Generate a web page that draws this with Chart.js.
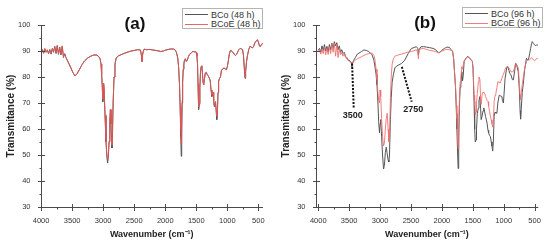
<!DOCTYPE html>
<html>
<head>
<meta charset="utf-8">
<script src="https://cdn.jsdelivr.net/npm/chart.js@4.4.1/dist/chart.umd.min.js"></script>
<style>
  body { margin: 0; background: #fff; font-family: "Liberation Sans", Arial, sans-serif; }
  #fig { position: relative; width: 550px; height: 244px; overflow: hidden; }
  .panel { position: absolute; top: 0; width: 275px; height: 244px; }
  .tag { position: absolute; font-weight: bold; font-size: 17px; color: #111; line-height: 1; transform: translate(-50%, -50%); }
  .legend { position: absolute; border: 1px solid #b4b4b4; background: #fff; font-size: 9px; color: #333; box-sizing: border-box; padding-top: 1px; }
  .legend .row { display: flex; align-items: center; height: 9.5px; white-space: nowrap; }
  .legend .sw { display: inline-block; width: 23px; height: 0; border-top: 1px solid; margin: 0 3px 0 2px; }
</style>
</head>
<body>
<div id="fig">
  <div class="panel" style="left:0"><canvas id="chartA" width="275" height="244"></canvas></div>
  <div class="panel" style="left:275px"><canvas id="chartB" width="275" height="244"></canvas></div>
  <div class="tag" style="left:135px;top:23px">(a)</div>
  <div class="tag" style="left:425px;top:22px">(b)</div>
  <div class="legend" id="legA" style="left:182px;top:8px;width:81px;height:21px"></div>
  <div class="legend" id="legB" style="left:462px;top:7px;width:81px;height:21px"></div>
</div>
<script>
// tick labels
const xTicks = [4000, 3500, 3000, 2500, 2000, 1500, 1000, 500];
const yTicks = [30, 40, 50, 60, 70, 80, 90, 100];

// series names
const seriesA = ["BCo (48 h)", "BCoE (48 h)"];
const seriesB = ["BCo (96 h)", "BCoE (96 h)"];

// (a) 48 h spectra, wavenumber (cm-1) and transmitance (%)
const wnA = [
  4000, 3980, 3960, 3940, 3920, 3900, 3880, 3860, 3840, 3820,
  3800, 3780, 3760, 3740, 3720, 3700, 3680, 3660, 3640, 3620,
  3600, 3580, 3550, 3520, 3490, 3455, 3420, 3380, 3340, 3300,
  3250, 3200, 3150, 3100, 3070, 3050, 3035, 3025, 3015, 3008,
  3004, 3000, 2993, 2985, 2970, 2955, 2940, 2928, 2918, 2905,
  2893, 2884, 2875, 2866, 2858, 2850, 2840, 2825, 2810, 2790,
  2750, 2700, 2650, 2600, 2550, 2500, 2450, 2400, 2385, 2375,
  2365, 2355, 2340, 2300, 2250, 2200, 2150, 2100, 2070, 2030,
  2000, 1950, 1900, 1860, 1840, 1820, 1800, 1785, 1770, 1760,
  1750, 1742, 1735, 1728, 1720, 1710, 1700, 1690, 1676, 1660,
  1645, 1630, 1610, 1590, 1570, 1550, 1530, 1515, 1500, 1490,
  1480, 1472, 1465, 1460, 1450, 1442, 1432, 1422, 1410, 1400,
  1390, 1382, 1370, 1355, 1340, 1325, 1310, 1290, 1275, 1262,
  1250, 1240, 1230, 1220, 1212, 1200, 1190, 1180, 1170, 1160,
  1150, 1140, 1125, 1110, 1095, 1080, 1050, 1030, 1015, 1000,
  985, 970, 955, 940, 920, 900, 885, 870, 850, 835,
  815, 795, 775, 755, 740, 728, 715, 705, 690, 675,
  655, 635, 615, 595, 575, 555, 530, 515, 500, 485,
  470, 455, 440, 430
];
const bcoA = [
  90.0, 90.6, 89.2, 90.8, 89.6, 90.3, 89.0, 90.6, 88.8, 91.0,
  89.5, 91.8, 89.0, 92.0, 88.7, 91.5, 88.5, 91.8, 87.5, 89.0,
  87.5, 86.5, 85.0, 83.5, 81.8, 80.4, 81.3, 83.0, 84.8, 86.2,
  87.3, 88.0, 88.5, 88.4, 87.8, 87.0, 85.0, 81.0, 76.5, 72.0,
  70.5, 74.0, 77.5, 75.0, 65.0, 55.0, 49.0, 46.9, 49.0, 55.0,
  63.0, 67.3, 62.0, 55.0, 52.7, 58.0, 70.0, 80.0, 85.0, 87.3,
  88.2, 88.7, 89.2, 89.6, 90.0, 90.2, 90.5, 90.4, 88.5, 86.0,
  88.5, 89.8, 90.7, 90.5, 90.6, 90.4, 90.2, 90.0, 89.8, 90.0,
  90.3, 90.6, 90.8, 90.7, 90.4, 89.5, 87.5, 84.0, 77.0, 68.0,
  57.0, 49.5, 58.0, 70.0, 78.0, 83.0, 85.0, 86.5, 87.0, 86.0,
  86.5, 87.6, 88.7, 89.0, 89.5, 90.0, 89.5, 90.0, 89.3, 88.0,
  85.0, 77.0, 69.0, 67.5, 69.5, 76.0, 82.0, 84.0, 84.3, 81.0,
  78.0, 77.0, 79.0, 81.5, 81.8, 81.0, 80.5, 79.6, 78.5, 75.0,
  72.5, 73.5, 74.0, 71.0, 68.7, 69.5, 70.5, 67.0, 63.6, 66.0,
  74.0, 78.4, 79.5, 80.0, 82.5, 83.0, 83.5, 83.0, 82.8, 84.0,
  86.0, 88.5, 90.0, 90.3, 89.7, 89.2, 88.6, 88.3, 88.7, 89.5,
  90.5, 91.0, 90.8, 90.5, 88.5, 84.0, 79.5, 82.0, 86.0, 88.3,
  90.5, 91.8, 91.5, 91.2, 91.8, 93.2, 94.0, 94.3, 93.5, 92.2,
  91.7, 92.3, 92.8, 93.0
];
const bcoeA = [
  90.2, 90.4, 89.0, 91.0, 89.4, 90.5, 89.2, 90.2, 89.0, 90.8,
  89.8, 91.5, 89.3, 92.2, 88.9, 91.2, 88.8, 92.0, 87.8, 88.7,
  87.5, 86.5, 85.0, 83.5, 81.8, 80.4, 81.3, 83.0, 84.8, 86.2,
  87.3, 88.0, 88.5, 88.4, 87.8, 87.0, 85.0, 81.0, 76.5, 72.5,
  71.5, 74.5, 77.5, 75.0, 65.5, 56.0, 50.0, 48.5, 50.0, 55.5,
  63.5, 67.6, 62.5, 56.0, 53.8, 58.5, 70.0, 80.0, 85.0, 87.3,
  88.2, 88.7, 89.2, 89.6, 90.0, 90.2, 90.5, 90.4, 88.5, 86.0,
  88.5, 89.8, 90.7, 90.5, 90.6, 90.4, 90.2, 90.0, 89.8, 90.0,
  90.3, 90.6, 90.8, 90.7, 90.4, 89.5, 87.5, 84.0, 77.0, 69.0,
  60.0, 54.0, 60.0, 71.0, 78.0, 83.0, 85.0, 86.5, 87.0, 86.0,
  86.5, 87.6, 88.7, 89.0, 89.5, 90.0, 89.5, 90.0, 89.3, 88.0,
  85.0, 77.5, 70.0, 68.5, 70.0, 76.0, 82.0, 84.0, 84.3, 81.0,
  78.0, 77.0, 79.0, 81.5, 81.8, 81.0, 80.5, 79.6, 78.5, 75.0,
  73.0, 73.8, 74.0, 71.5, 69.3, 69.8, 70.5, 67.5, 65.0, 66.5,
  74.0, 78.4, 79.5, 80.0, 82.5, 83.0, 83.5, 83.0, 82.8, 84.0,
  86.0, 88.5, 90.0, 90.3, 89.7, 89.2, 88.6, 88.3, 88.7, 89.5,
  90.5, 91.0, 90.8, 90.5, 88.5, 84.0, 79.8, 82.0, 86.0, 88.3,
  90.5, 91.8, 91.5, 91.2, 91.8, 93.2, 94.0, 94.3, 93.5, 92.2,
  91.7, 92.3, 92.8, 93.0
];

// (b) 96 h spectra
const wnB = [
  4000, 3980, 3960, 3940, 3920, 3900, 3880, 3860, 3840, 3820,
  3800, 3780, 3760, 3740, 3720, 3700, 3680, 3660, 3640, 3620,
  3600, 3580, 3560, 3540, 3520, 3500, 3480, 3465, 3455, 3445,
  3430, 3400, 3368, 3300, 3262, 3220, 3183, 3150, 3130, 3100,
  3087, 3065, 3050, 3035, 3023, 3010, 3000, 2990, 2975, 2960,
  2944, 2930, 2915, 2900, 2885, 2870, 2858, 2848, 2835, 2820,
  2805, 2785, 2760, 2732, 2700, 2653, 2600, 2546, 2493, 2450,
  2414, 2390, 2380, 2370, 2340, 2300, 2250, 2200, 2144, 2100,
  2064, 2040, 2000, 1957, 1920, 1880, 1850, 1826, 1810, 1800,
  1780, 1765, 1757, 1745, 1737, 1728, 1718, 1705, 1693, 1677,
  1666, 1655, 1640, 1610, 1587, 1565, 1550, 1530, 1507, 1496,
  1480, 1470, 1460, 1448, 1440, 1427, 1411, 1400, 1385, 1374,
  1365, 1350, 1335, 1322, 1307, 1295, 1280, 1270, 1254, 1244,
  1228, 1217, 1201, 1190, 1178, 1168, 1155, 1140, 1127, 1110,
  1095, 1073, 1058, 1030, 1021, 1005, 990, 978, 952, 935,
  915, 903, 883, 860, 844, 825, 807, 790, 764, 745,
  735, 727, 715, 700, 685, 660, 632, 615, 600, 580,
  564, 550, 537, 520, 500, 485, 473, 447
];
const bcoB = [
  90.3, 91.0, 89.5, 92.0, 90.2, 92.5, 90.0, 91.8, 89.7, 92.5,
  90.5, 93.0, 91.0, 93.6, 92.0, 93.2, 90.5, 92.0, 89.5, 90.5,
  89.0, 89.5, 88.0, 87.5, 86.5, 86.5, 86.0, 85.5, 84.0, 85.3,
  86.3, 87.5, 88.8, 89.8, 90.4, 90.2, 89.8, 89.0, 88.5, 86.5,
  84.6, 81.0, 77.0, 70.0, 62.9, 58.5, 62.0, 63.6, 57.0, 50.0,
  44.6, 46.0, 51.0, 53.0, 50.5, 48.0, 47.3, 50.0, 62.0, 72.0,
  78.0, 81.0, 83.5, 84.2, 84.6, 85.2, 86.5, 89.0, 91.0, 91.3,
  91.7, 91.0, 88.5, 90.5, 91.6, 91.7, 91.5, 91.3, 91.0, 90.5,
  89.5, 89.3, 90.3, 91.0, 91.5, 91.4, 90.5, 89.8, 87.0, 83.4,
  76.0, 66.0, 60.0, 50.0, 44.8, 55.0, 68.0, 76.0, 77.0, 82.0,
  78.5, 80.5, 86.0, 87.2, 87.9, 87.5, 87.2, 86.8, 86.0, 83.0,
  70.6, 60.0, 55.0, 55.8, 60.0, 66.0, 68.0, 71.0, 72.5, 68.0,
  63.6, 65.0, 67.0, 68.1, 66.5, 64.9, 63.5, 62.3, 59.5, 58.5,
  57.5, 57.2, 55.0, 53.4, 51.5, 55.0, 64.9, 66.5, 66.1, 66.1,
  70.0, 73.0, 72.8, 72.5, 71.0, 70.0, 75.0, 79.4, 83.5, 84.0,
  82.5, 81.5, 80.8, 79.0, 78.9, 82.0, 85.3, 84.5, 82.0, 74.0,
  67.0, 63.8, 68.0, 74.0, 77.0, 83.0, 87.2, 86.6, 86.6, 89.0,
  91.0, 92.8, 93.6, 92.8, 92.5, 92.0, 92.3, 92.3
];
const bcoeB = [
  90.0, 90.5, 88.8, 90.5, 89.0, 91.5, 88.5, 91.0, 88.7, 91.5,
  89.0, 92.8, 89.5, 93.0, 88.0, 92.5, 87.5, 91.0, 88.5, 89.5,
  88.0, 89.0, 87.5, 87.0, 86.5, 86.0, 85.5, 85.2, 85.0, 85.4,
  85.8, 86.5, 87.0, 87.8, 88.3, 88.7, 89.0, 89.2, 89.2, 88.3,
  87.2, 83.0, 79.0, 74.0, 71.0, 70.0, 75.0, 72.5, 64.0, 57.0,
  53.5, 54.5, 60.0, 64.0, 66.0, 60.0, 55.0, 56.0, 70.0, 80.0,
  85.0, 87.0, 88.0, 88.3, 88.5, 88.8, 89.2, 89.6, 89.8, 90.1,
  90.5, 89.5, 87.0, 90.5, 90.8, 91.0, 90.6, 90.3, 90.0, 89.8,
  89.3, 89.5, 90.0, 90.4, 90.6, 90.5, 90.2, 89.8, 87.0, 83.5,
  77.0, 69.0, 64.0, 56.0, 52.5, 60.0, 70.0, 78.0, 80.0, 84.0,
  83.0, 84.5, 86.2, 87.3, 87.6, 87.8, 87.0, 86.5, 86.0, 83.4,
  73.0, 69.0, 65.5, 66.5, 70.0, 73.7, 78.0, 80.0, 79.0, 72.0,
  69.5, 73.0, 74.2, 74.0, 73.7, 72.5, 71.8, 71.0, 70.5, 68.8,
  66.7, 65.0, 63.5, 62.0, 60.7, 62.5, 70.6, 73.0, 73.7, 76.0,
  78.2, 78.0, 77.6, 79.5, 80.0, 81.0, 82.0, 83.0, 84.0, 84.0,
  83.4, 83.0, 82.0, 82.0, 82.0, 83.5, 85.3, 84.8, 83.4, 77.0,
  73.0, 71.4, 74.0, 77.0, 79.5, 83.5, 86.0, 86.4, 86.6, 86.6,
  87.0, 87.5, 87.2, 86.6, 86.2, 86.6, 87.0, 87.2
];

// dashed pointers in (b): [wavenumber, transmitance] at both ends
const note3500Wn = [3453, 3427];
const note3500T = [85.2, 68.3];
const note2750Wn = [2648, 2489];
const note2750T = [83.9, 70.5];

Chart.defaults.font.family = '"Liberation Sans", Arial, sans-serif';
Chart.defaults.color = "#333";

const GREY = "#555555";
const RED_A = "rgba(232, 84, 84, 0.9)";
const RED_B = "rgba(238, 112, 112, 0.9)";

function pts(xs, ys) {
  return xs.map((x, i) => ({ x: x, y: ys[i] }));
}

// axis lines plus crossing major ticks / short minor ticks, and free labels
const axisPlugin = {
  id: "axisPlugin",
  afterDraw(chart, args, opts) {
    const { ctx, chartArea: a, scales } = chart;
    const x = scales.x, y = scales.y;
    ctx.save();
    ctx.strokeStyle = "#4a4a4a";
    ctx.lineWidth = 1;
    ctx.beginPath();
    const ax = Math.round(a.left) + 0.5;
    const ay = Math.round(a.bottom) + 0.5;
    ctx.moveTo(ax, a.top);
    ctx.lineTo(ax, ay);
    ctx.lineTo(a.right, ay);
    for (let v = 500; v <= 4000; v += 250) {
      const px = Math.round(x.getPixelForValue(v)) + 0.5;
      const major = v % 500 === 0;
      ctx.moveTo(px, major ? ay - 3.5 : ay);
      ctx.lineTo(px, ay + (major ? 3.5 : 2));
    }
    for (let v = 30; v <= 100; v += 5) {
      const py = Math.round(y.getPixelForValue(v)) + 0.5;
      const major = v % 10 === 0;
      ctx.moveTo(ax - (major ? 3.5 : 2), py);
      ctx.lineTo(major ? ax + 3.5 : ax, py);
    }
    ctx.stroke();
    (opts.notes || []).forEach(n => {
      ctx.font = "bold 9px 'Liberation Sans', Arial, sans-serif";
      ctx.fillStyle = "#222";
      ctx.textAlign = "center";
      ctx.textBaseline = "middle";
      ctx.fillText(n.text, x.getPixelForValue(n.wn), y.getPixelForValue(n.t));
    });
    ctx.restore();
  }
};

function makeChart(id, datasets, xMax, xMin, padRight, notes) {
  return new Chart(document.getElementById(id), {
    type: "line",
    data: { datasets: datasets },
    options: {
      responsive: false,
      animation: false,
      devicePixelRatio: 1,
      layout: { padding: { top: 25, right: padRight, left: 0, bottom: 0 } },
      elements: { point: { radius: 0 }, line: { tension: 0 } },
      plugins: {
        legend: { display: false },
        tooltip: { enabled: false },
        axisPlugin: { notes: notes }
      },
      scales: {
        x: {
          type: "linear",
          reverse: true,
          min: xMin,
          max: xMax,
          grid: { display: false, drawTicks: false },
          border: { display: false },
          afterFit(s) { s.height = 37; },
          afterBuildTicks(s) { s.ticks = xTicks.map(v => ({ value: v })); },
          ticks: { padding: 9, color: "#333", font: { size: 7.5 }, callback: v => String(v) },
          title: {
            display: true,
            text: "Wavenumber (cm\u207B\u00B9)",
            color: "#222",
            font: { size: 9, weight: "bold" },
            padding: { top: 0, bottom: 4.5 }
          }
        },
        y: {
          min: 30,
          max: 100,
          grid: { display: false, drawTicks: false },
          border: { display: false },
          afterFit(s) { s.width = 40.5; },
          afterBuildTicks(s) { s.ticks = yTicks.map(v => ({ value: v })); },
          ticks: { padding: 10, color: "#333", font: { size: 7.5 }, callback: v => String(v) },
          title: {
            display: true,
            text: "Transmitance (%)",
            color: "#222",
            font: { size: 10, weight: "bold" },
            padding: { top: 5, bottom: 0 }
          }
        }
      }
    },
    plugins: [axisPlugin]
  });
}

// higher order is drawn first, so the BCoE trace sits on top
makeChart("chartA", [
  { label: seriesA[0], data: pts(wnA, bcoA), borderColor: GREY, borderWidth: 1, order: 2 },
  { label: seriesA[1], data: pts(wnA, bcoeA), borderColor: RED_A, borderWidth: 1, order: 1 }
], 4010, 425, 12, []);

makeChart("chartB", [
  { label: seriesB[0], data: pts(wnB, bcoB), borderColor: GREY, borderWidth: 1, order: 2 },
  { label: seriesB[1], data: pts(wnB, bcoeB), borderColor: RED_B, borderWidth: 1, order: 1 },
  { label: "3500", data: pts(note3500Wn, note3500T), borderColor: "#111", borderWidth: 2, borderDash: [2, 1.5], order: 0 },
  { label: "2750", data: pts(note2750Wn, note2750T), borderColor: "#111", borderWidth: 2, borderDash: [2, 1.5], order: 0 }
], 4045, 441, 8, [
  { text: "3500", wn: 3443, t: 65.3 },
  { text: "2750", wn: 2462, t: 67.5 }
]);

function buildLegend(id, names, colors) {
  const box = document.getElementById(id);
  names.forEach((n, i) => {
    const row = document.createElement("div");
    row.className = "row";
    const sw = document.createElement("span");
    sw.className = "sw";
    sw.style.borderColor = colors[i];
    row.appendChild(sw);
    row.appendChild(document.createTextNode(n));
    box.appendChild(row);
  });
}
buildLegend("legA", seriesA, [GREY, RED_A]);
buildLegend("legB", seriesB, [GREY, RED_B]);
</script>
</body>
</html>
